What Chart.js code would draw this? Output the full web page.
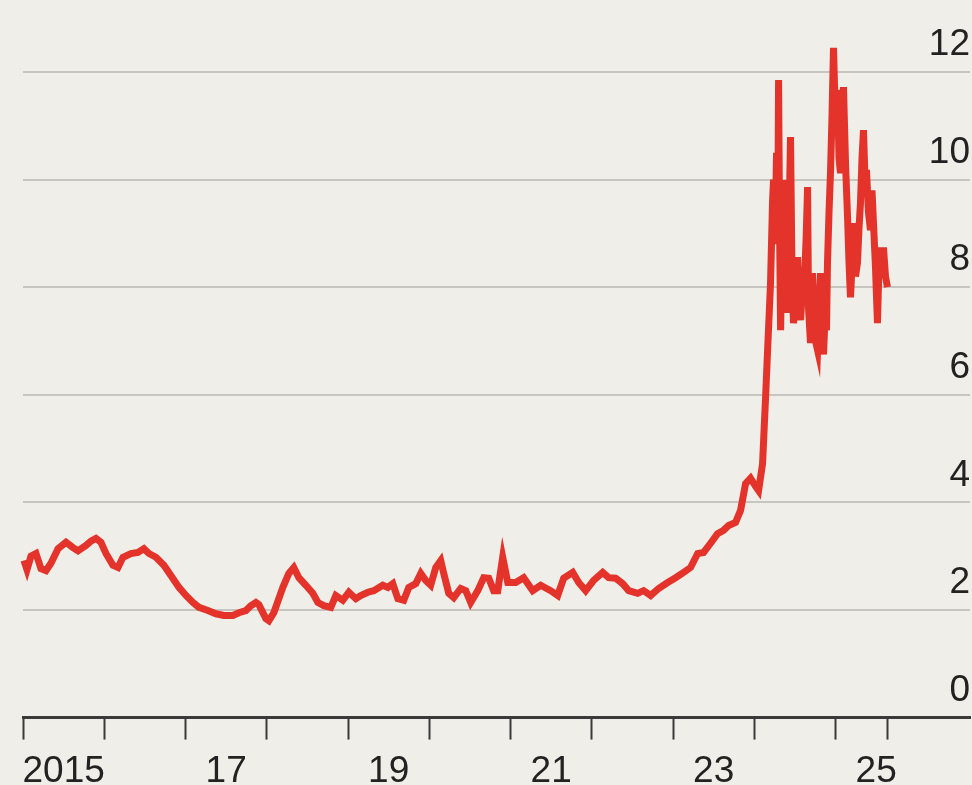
<!DOCTYPE html>
<html>
<head>
<meta charset="utf-8">
<script src="https://cdn.jsdelivr.net/npm/chart.js@4/dist/chart.umd.min.js"></script>
<style>
  html, body { margin: 0; padding: 0; background: #efeee8; overflow: hidden; }
  #wrap { position: relative; width: 972px; height: 804px; }
</style>
</head>
<body>
<div id="wrap"><canvas id="priceChart"></canvas></div>
<script>
'use strict';
//=================Data===================//
// decimal years
var dates = [
  2015.012, 2015.049, 2015.098, 2015.160, 2015.221, 2015.283, 2015.344, 2015.431, 2015.529, 2015.615,
  2015.677, 2015.775, 2015.836, 2015.898, 2015.959, 2016.021, 2016.107, 2016.169, 2016.230, 2016.328,
  2016.415, 2016.488, 2016.550, 2016.636, 2016.734, 2016.820, 2016.919, 2017.005, 2017.091, 2017.165,
  2017.276, 2017.374, 2017.472, 2017.583, 2017.657, 2017.743, 2017.804, 2017.866, 2017.903, 2017.989,
  2018.026, 2018.087, 2018.198, 2018.272, 2018.333, 2018.395, 2018.481, 2018.567, 2018.629, 2018.702,
  2018.788, 2018.850, 2018.936, 2019.010, 2019.096, 2019.157, 2019.244, 2019.317, 2019.428, 2019.490,
  2019.551, 2019.613, 2019.686, 2019.748, 2019.834, 2019.896, 2019.957, 2020.018, 2020.080, 2020.141,
  2020.178, 2020.240, 2020.301, 2020.387, 2020.449, 2020.510, 2020.597, 2020.670, 2020.732, 2020.793,
  2020.843, 2020.904, 2020.966, 2021.064, 2021.162, 2021.273, 2021.371, 2021.494, 2021.581, 2021.654,
  2021.765, 2021.839, 2021.925, 2022.023, 2022.134, 2022.208, 2022.294, 2022.380, 2022.454, 2022.565,
  2022.638, 2022.725, 2022.823, 2022.934, 2023.032, 2023.131, 2023.216, 2023.303, 2023.376, 2023.462,
  2023.548, 2023.622, 2023.684, 2023.770, 2023.831, 2023.893, 2023.954, 2024.016, 2024.053, 2024.102,
  2024.139, 2024.164, 2024.200, 2024.225, 2024.237, 2024.255, 2024.274, 2024.290, 2024.299, 2024.312,
  2024.324, 2024.336, 2024.348, 2024.366, 2024.385, 2024.398, 2024.410, 2024.428, 2024.446, 2024.465,
  2024.483, 2024.508, 2024.533, 2024.551, 2024.570, 2024.594, 2024.619, 2024.638, 2024.656, 2024.668,
  2024.692, 2024.717, 2024.735, 2024.754, 2024.779, 2024.797, 2024.815, 2024.834, 2024.852, 2024.870,
  2024.889, 2024.901, 2024.920, 2024.938, 2024.957, 2024.975, 2024.994, 2025.024, 2025.043, 2025.061,
  2025.080, 2025.098, 2025.123, 2025.148, 2025.166, 2025.184, 2025.203, 2025.221, 2025.246, 2025.270,
  2025.289, 2025.307, 2025.326, 2025.344, 2025.363, 2025.381, 2025.405, 2025.430, 2025.449, 2025.467,
  2025.491, 2025.516, 2025.541, 2025.565, 2025.590, 2025.615, 2025.639
];
// $'000 per tonne
var prices = [
  2.92, 2.75, 3.00, 3.05, 2.77, 2.73, 2.87, 3.14, 3.26, 3.16,
  3.10, 3.20, 3.28, 3.33, 3.26, 3.05, 2.83, 2.79, 2.98, 3.05,
  3.07, 3.14, 3.05, 2.98, 2.83, 2.64, 2.42, 2.27, 2.14, 2.05,
  1.99, 1.93, 1.90, 1.90, 1.95, 1.99, 2.08, 2.14, 2.10, 1.84,
  1.80, 1.95, 2.42, 2.68, 2.79, 2.60, 2.46, 2.31, 2.14, 2.08,
  2.05, 2.27, 2.18, 2.33, 2.21, 2.27, 2.33, 2.36, 2.46, 2.42,
  2.49, 2.21, 2.18, 2.42, 2.49, 2.68, 2.55, 2.46, 2.79, 2.92,
  2.68, 2.31, 2.23, 2.40, 2.36, 2.14, 2.36, 2.60, 2.59, 2.36,
  2.36, 2.98, 2.51, 2.51, 2.60, 2.36, 2.46, 2.36, 2.27, 2.59,
  2.70, 2.51, 2.36, 2.55, 2.70, 2.60, 2.59, 2.49, 2.36, 2.31,
  2.36, 2.27, 2.40, 2.51, 2.60, 2.70, 2.79, 3.05, 3.07, 3.24,
  3.42, 3.48, 3.57, 3.63, 3.85, 4.35, 4.45, 4.30, 4.22, 4.72,
  5.95, 6.83, 8.07, 9.60, 10.00, 8.80, 10.50, 9.40, 11.85, 9.00,
  7.20, 8.40, 9.00, 8.00, 9.99, 8.60, 7.52, 9.20, 10.79, 8.20,
  7.33, 8.10, 8.56, 7.60, 7.39, 8.00, 8.20, 8.90, 9.86, 7.60,
  6.96, 8.26, 7.40, 7.00, 6.83, 7.60, 8.26, 7.20, 6.75, 7.40,
  7.20, 8.45, 9.40, 10.12, 11.20, 12.45, 11.40, 11.67, 10.40, 10.12,
  11.10, 11.72, 10.30, 9.30, 8.45, 7.81, 8.40, 9.19, 8.20, 8.45,
  9.10, 9.56, 10.40, 10.92, 10.00, 10.18, 9.40, 9.06, 9.80, 9.20,
  8.40, 7.33, 8.74, 8.20, 8.74, 8.20, 8.00
];
// tick marks on the x axis: year starts plus latest date
var tickYears = [2015, 2016, 2017, 2018, 2019, 2020, 2021, 2022, 2023, 2024, 2025, 2025.639];
var tickLabels = ['2015', '', '17', '', '19', '', '21', '', '23', '', '25', ''];
var yTicks = [0, 2, 4, 6, 8, 10, 12];

//=================Chart===================//
var points = [];
for (var i = 0; i < dates.length; i++) {
  points.push({ x: dates[i], y: prices[i] });
}

var tickFont = { family: "'Liberation Sans', Arial, sans-serif", size: 37, lineHeight: 1.2 };
var halfYear = 81.25 / 2;

var ctx = document.getElementById('priceChart').getContext('2d');
var priceChart = new Chart(ctx, {
  type: 'line',
  data: {
    datasets: [{
      data: points,
      borderColor: '#e4332a',
      borderWidth: 7,
      pointRadius: 0,
      tension: 0,
      clip: false
    }]
  },
  options: {
    responsive: true,
    maintainAspectRatio: false,
    animation: false,
    events: [],
    layout: { padding: { top: 72, left: 23, right: 2, bottom: 0 } },
    plugins: { legend: { display: false }, tooltip: { enabled: false } },
    scales: {
      x: {
        type: 'linear',
        min: 2015,
        max: 2026.655,
        afterBuildTicks: function (scale) {
          scale.ticks = tickYears.map(function (v) { return { value: v }; });
        },
        afterFit: function (scale) {
          scale.paddingLeft = 0;
          scale.paddingRight = 0;
        },
        border: { display: true, color: '#3a3a3a', width: 3 },
        grid: {
          drawOnChartArea: false,
          drawTicks: true,
          tickLength: 22,
          tickColor: '#3a3a3a',
          tickWidth: 2
        },
        ticks: {
          autoSkip: false,
          maxRotation: 0,
          padding: 10,
          labelOffset: halfYear,
          color: '#222',
          font: tickFont,
          callback: function (value, index) { return tickLabels[index]; }
        }
      },
      y: {
        position: 'right',
        min: 0,
        max: 12,
        afterBuildTicks: function (scale) {
          scale.ticks = yTicks.map(function (v) { return { value: v }; });
        },
        afterFit: function (scale) {
          scale.paddingTop = 0;
          scale.paddingBottom = 0;
        },
        border: { display: false },
        grid: {
          drawTicks: false,
          lineWidth: 2,
          color: function (c) { return c.tick && c.tick.value === 0 ? 'rgba(0,0,0,0)' : '#c7c5bf'; }
        },
        ticks: {
          mirror: true,
          padding: 0,
          labelOffset: -27,
          color: '#222',
          font: tickFont
        }
      }
    }
  }
});
</script>
</body>
</html>
